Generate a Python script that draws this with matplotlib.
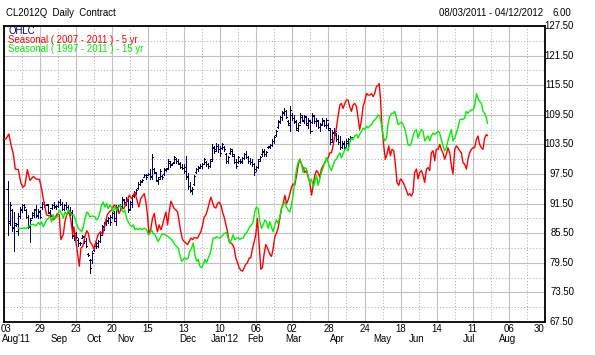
import matplotlib
matplotlib.use('Agg')
import matplotlib.pyplot as plt
import matplotlib.transforms as mtransforms

# ---------------- data ----------------
tick_days = [0, 18, 36, 54, 72, 90, 108, 126, 144, 162, 180, 198, 216, 234, 252, 270]
tick_labels = ['03', '29', '23', '20', '15', '13', '10', '06', '02', '28', '24', '18', '14', '11', '06', '30']
month_names = ["Aug'11", 'Sep', 'Oct', 'Nov', 'Dec', "Jan'12", 'Feb', 'Mar', 'Apr', 'May', 'Jun', 'Jul', 'Aug']
month_pos = [-0.8, 27.5, 45.1, 61.0, 91.9, 110.4, 125.8, 144.7, 166.7, 189.0, 205.8, 232.0, 251.4]
y_ticks = [127.5, 121.5, 115.5, 109.5, 103.5, 97.5, 91.5, 85.5, 79.5, 73.5, 67.5]

ohlc_day = list(range(2, 174))
ohlc_high = [96.0, 91.8, 90.5, 89.8, 87.5, 89.5, 90.8, 91.5,
             91.5, 90.5, 89.2, 88.5, 89.8, 90.5, 91.2, 90.5, 90.2, 91.8,
             91.8, 91.5, 91.5, 90.2, 91.5, 91.8, 91.3, 92.0, 92.5, 91.8,
             91.5, 91.8, 91.2, 90.8, 90.2, 86.2, 85.8, 84.5, 83.8, 85.2,
             85.0, 84.5, 81.5, 80.2, 81.8, 83.2, 83.8, 84.2, 85.5, 87.2,
             87.8, 88.5, 88.8, 89.2, 89.8, 90.0, 91.2, 91.2, 91.5, 92.8,
             92.5, 92.8, 92.5, 92.0, 93.2, 94.0, 94.5, 95.8, 96.2, 96.5,
             97.5, 97.6, 97.8, 98.5, 101.5, 98.8, 98.0, 96.8, 98.5, 97.2,
             98.8, 98.8, 100.5, 100.2, 99.8, 101.2, 100.8, 100.5, 100.0, 99.5,
             99.5, 101.2, 97.8, 95.8, 94.8, 97.2, 98.8, 99.2, 99.5, 99.8,
             100.8, 100.2, 99.8, 100.5, 103.5, 103.2, 103.8, 103.5, 103.2, 103.8,
             103.2, 101.8, 101.2, 102.8, 102.5, 101.5, 100.5, 101.2, 100.5, 101.0,
             101.8, 102.2, 101.2, 100.8, 100.5, 99.8, 99.2, 100.5, 101.2, 102.5,
             102.5, 102.2, 103.2, 103.5, 104.5, 105.2, 106.5, 108.5, 109.2, 110.2,
             110.8, 110.5, 108.5, 111.2, 109.8, 109.5, 108.5, 107.8, 109.8, 109.2,
             109.5, 109.2, 108.8, 108.5, 109.8, 109.5, 108.8, 108.5, 107.8, 108.8,
             108.5, 108.8, 107.8, 106.8, 106.5, 106.8, 105.8, 105.5, 105.2, 104.2,
             104.2, 104.5, 104.8, 105.2]
ohlc_low = [85.2, 87.2, 86.0, 81.8, 87.0, 85.2, 88.6, 89.8,
            90.5, 88.5, 86.5, 83.8, 88.5, 88.8, 88.8, 88.6, 88.5, 90.5,
            90.8, 91.2, 89.5, 88.5, 90.5, 90.6, 90.5, 90.8, 91.2, 90.2,
            90.2, 90.5, 89.8, 89.2, 84.5, 84.2, 84.5, 83.0, 83.2, 84.5,
            83.5, 82.8, 80.8, 77.5, 79.5, 81.8, 82.5, 82.8, 83.8, 85.2,
            86.2, 87.2, 87.5, 87.2, 88.5, 88.0, 87.2, 90.0, 90.2, 90.8,
            91.5, 91.2, 89.8, 90.2, 90.8, 92.8, 93.5, 94.5, 95.2, 95.8,
            96.8, 96.5, 97.2, 96.5, 96.5, 97.8, 96.0, 95.5, 96.5, 96.5,
            97.2, 98.2, 98.5, 99.0, 99.3, 99.8, 99.8, 99.5, 98.8, 98.5,
            97.8, 96.5, 94.5, 93.8, 93.5, 95.2, 97.8, 98.2, 98.8, 98.8,
            99.5, 99.2, 98.8, 99.0, 100.2, 101.8, 102.2, 102.0, 101.2, 102.5,
            102.2, 99.8, 99.8, 101.5, 101.2, 99.8, 98.8, 99.8, 99.8, 99.8,
            100.5, 100.8, 99.8, 99.5, 99.2, 97.2, 98.2, 98.8, 100.2, 101.2,
            101.2, 101.2, 102.8, 102.8, 103.2, 103.8, 105.2, 106.8, 107.8, 108.5,
            109.5, 108.8, 107.5, 106.2, 108.5, 107.8, 106.5, 106.2, 107.8, 108.2,
            107.8, 107.5, 106.8, 105.8, 107.8, 107.8, 107.2, 106.8, 106.2, 107.5,
            107.2, 106.8, 106.5, 103.5, 104.2, 105.5, 104.2, 103.5, 102.5, 102.8,
            102.5, 102.8, 103.2, 104.2]
ohlc_open = [94.5, 88.0, 90.2, 86.8, 87.2, 86.0, 89.0, 90.2,
             91.2, 90.2, 88.8, 86.8, 88.6, 89.2, 90.5, 89.0, 89.8, 90.8,
             91.5, 91.3, 91.2, 89.5, 90.6, 91.2, 90.8, 91.0, 91.8, 91.5,
             90.5, 91.2, 90.8, 90.2, 89.8, 85.2, 85.5, 84.2, 83.5, 84.6,
             84.8, 84.0, 81.2, 80.0, 80.0, 82.0, 83.0, 83.0, 84.0, 85.5,
             86.8, 87.5, 88.0, 88.5, 88.8, 89.5, 88.0, 90.6, 91.0, 91.0,
             92.2, 91.8, 92.0, 90.5, 91.5, 93.0, 93.8, 94.6, 95.5, 96.0,
             96.9, 97.2, 97.3, 97.5, 97.0, 98.5, 97.8, 96.0, 96.8, 97.0,
             97.5, 98.4, 98.8, 99.8, 99.4, 100.0, 100.5, 100.2, 99.6, 99.0,
             98.8, 99.0, 96.8, 95.0, 94.0, 95.5, 98.0, 98.5, 99.0, 99.2,
             99.6, 100.0, 99.5, 99.2, 100.5, 102.8, 102.5, 103.2, 102.5, 102.8,
             103.0, 101.5, 100.2, 101.8, 102.2, 101.2, 100.0, 100.0, 100.2, 100.2,
             100.8, 101.5, 101.0, 100.2, 100.0, 99.5, 98.5, 99.0, 100.5, 101.5,
             102.0, 101.5, 102.9, 103.0, 103.4, 104.2, 105.4, 107.0, 108.0, 109.0,
             110.0, 110.2, 108.2, 107.5, 109.5, 108.8, 108.0, 106.5, 108.0, 109.0,
             108.2, 109.0, 107.5, 108.2, 108.0, 109.2, 108.2, 108.2, 107.0, 107.6,
             108.2, 107.5, 107.5, 106.5, 104.5, 105.8, 105.5, 104.5, 104.0, 103.0,
             103.5, 103.0, 103.8, 104.5]
ohlc_close = [87.5, 91.2, 86.5, 87.5, 87.3, 89.0, 90.5, 91.2,
              90.8, 88.8, 87.0, 88.2, 89.5, 90.2, 89.2, 90.0, 88.8, 91.5,
              91.2, 91.4, 89.8, 89.0, 91.2, 91.0, 91.0, 91.8, 91.5, 90.5,
              91.2, 90.8, 90.0, 89.5, 85.0, 85.5, 84.8, 83.5, 83.6, 85.0,
              84.0, 83.0, 81.0, 78.5, 81.5, 83.0, 83.5, 84.0, 85.2, 87.0,
              87.5, 88.2, 88.5, 87.8, 89.5, 88.5, 90.8, 91.0, 90.5, 92.5,
              91.8, 92.2, 90.2, 91.8, 93.0, 93.8, 94.2, 95.5, 95.8, 96.3,
              97.2, 96.8, 97.6, 96.8, 101.0, 98.0, 96.2, 96.5, 98.2, 96.8,
              98.5, 98.6, 100.2, 99.5, 99.7, 101.0, 100.2, 99.8, 99.0, 98.8,
              98.2, 97.0, 95.0, 94.2, 94.5, 97.0, 98.5, 98.8, 99.2, 99.5,
              100.5, 99.5, 99.2, 100.2, 103.0, 102.2, 103.2, 102.5, 101.8, 103.5,
              102.5, 100.2, 101.0, 102.5, 101.5, 100.0, 99.2, 101.0, 100.0, 100.8,
              101.5, 101.0, 100.2, 100.0, 99.5, 98.0, 99.0, 100.2, 101.0, 102.2,
              101.5, 102.0, 103.1, 103.3, 104.2, 105.0, 106.2, 108.2, 109.0, 109.8,
              110.2, 109.0, 107.8, 110.5, 108.8, 108.2, 106.8, 107.5, 109.5, 108.5,
              109.2, 107.8, 108.5, 106.2, 109.5, 108.2, 108.5, 107.0, 107.5, 108.5,
              107.5, 108.5, 106.8, 104.0, 106.0, 106.2, 104.5, 104.0, 103.0, 103.8,
              103.0, 104.2, 104.5, 105.0]

red_days = [0.0, 1.2, 2.7, 3.7, 4.9, 5.9, 7.4, 8.6, 9.6, 10.7, 11.9, 13.2, 14.9, 16.2, 17.9,
            19.0, 19.8, 20.7, 21.5, 22.8, 24.0, 24.8, 25.7, 26.8, 27.8, 28.6, 29.8, 30.6, 31.5,
            32.6, 33.6, 34.5, 35.1, 36.1, 37.0, 37.8, 38.6, 39.5, 40.6, 41.5, 42.3, 43.1, 44.1,
            45.2, 46.1, 47.2, 48.4, 49.4, 50.6, 51.7, 52.7, 53.9, 55.2, 56.4, 57.5, 58.9, 60.0,
            61.4, 62.7, 63.9, 65.5, 67.5, 68.4, 70.2, 71.0, 71.8, 72.5, 73.5, 74.3, 75.2, 76.0,
            76.8, 77.6, 78.5, 79.3, 80.1, 81.0, 81.8, 82.6, 83.5, 84.3, 85.1, 86.0, 86.8, 87.6,
            88.4, 89.3, 90.1, 90.9, 91.8, 92.6, 93.4, 94.3, 95.1, 96.8, 97.6, 98.4, 99.3, 100.1,
            100.9, 101.7, 102.5, 103.4, 104.2, 105.0, 105.9, 106.7, 107.5, 108.4, 109.2, 110.0,
            110.9, 111.7, 112.5, 113.4, 114.2, 115.0, 115.8, 116.7, 117.5, 118.3, 119.2, 120.0,
            120.8, 121.6, 122.5, 123.3, 124.2, 125.0, 125.8, 126.6, 127.5, 128.3, 129.1, 129.9,
            130.8, 131.6, 132.8, 133.6, 134.4, 135.3, 136.1, 136.9, 137.8, 138.6, 139.4, 140.3,
            141.1, 141.9, 142.8, 143.6, 144.4, 145.2, 146.1, 146.9, 147.7, 148.6, 149.4, 150.2,
            151.1, 151.9, 152.7, 153.6, 154.4, 155.2, 156.1, 156.9, 157.7, 158.5, 159.4, 160.2,
            161.0, 161.9, 162.7, 163.5, 164.3, 165.2, 166.0, 166.8, 167.7, 168.5, 169.3, 170.2,
            171.0, 171.8, 172.6, 173.5, 174.3, 175.1, 176.0, 176.8, 177.6, 178.5, 179.3, 180.1,
            181.0, 181.8, 182.6, 183.5, 184.3, 185.1, 185.9, 186.8, 187.3, 187.9, 188.7, 189.6,
            190.4, 191.2, 192.1, 192.9, 193.7, 194.6, 195.4, 196.2, 197.1, 197.9, 198.7, 199.6,
            200.9, 201.7, 202.5, 203.4, 204.2, 205.0, 205.9, 206.7, 207.5, 208.4, 209.2, 210.0,
            210.9, 211.7, 212.5, 213.3, 214.2, 215.0, 215.8, 216.7, 217.5, 218.3, 219.1, 220.0,
            220.8, 221.6, 222.5, 223.3, 224.1, 225.0, 225.8, 226.6, 227.5, 228.3, 229.1, 229.9,
            230.8, 231.6, 232.4, 233.3, 234.1, 234.9, 235.8, 236.6, 237.4, 238.3, 239.1, 239.9,
            240.8, 241.3]
red_vals = [104.5, 104.6, 105.6, 103.5, 101.5, 98.5, 98.4, 95.8, 94.8, 95.2, 98.4, 96.2, 97.0, 96.5, 96.4,
            94.5, 92.5, 90.8, 89.2, 89.0, 89.2, 88.2, 88.5, 89.5, 89.2, 84.2, 85.2, 87.8, 89.2,
            89.8, 88.2, 85.2, 86.8, 83.8, 81.2, 78.8, 82.5, 82.8, 84.8, 86.0, 85.5, 83.8, 83.2,
            82.2, 83.8, 85.2, 85.8, 85.2, 87.2, 89.2, 89.8, 90.2, 91.2, 90.8, 89.5, 90.5, 90.5,
            91.8, 93.2, 92.5, 93.8, 90.8, 92.5, 93.5, 91.8, 89.2, 85.2, 86.5, 88.5, 89.5, 87.2,
            85.8, 87.2, 86.2, 87.2, 88.5, 89.8, 87.2, 89.8, 92.0, 91.2, 90.5, 90.2, 89.8, 87.8,
            85.8, 84.2, 83.8, 83.5, 83.2, 83.8, 84.5, 84.2, 84.6, 84.5, 85.2, 85.8, 87.2, 88.8,
            89.2, 90.2, 91.5, 92.8, 91.8, 90.8, 90.6, 91.5, 91.8, 91.2, 89.8, 88.8,
            87.2, 85.8, 83.8, 83.5, 83.2, 82.5, 80.5, 79.5, 78.5, 78.0, 77.8, 78.5,
            79.2, 79.5, 80.5, 80.5, 82.5, 83.8, 85.2, 88.5, 83.2, 78.2, 78.5, 81.2,
            83.2, 82.5, 81.2, 80.8, 82.2, 84.8, 85.5, 86.5, 88.5, 90.5, 91.5, 93.2,
            91.5, 92.2, 93.5, 94.8, 95.5, 95.2, 97.2, 99.2, 100.5, 99.5, 98.8, 97.8,
            98.2, 96.8, 95.8, 93.2, 95.2, 97.2, 98.2, 97.8, 96.8, 98.5, 99.2, 99.8,
            100.5, 100.8, 101.8, 101.8, 103.2, 105.2, 106.8, 109.2, 111.5, 111.8, 110.8, 111.8,
            112.5, 112.5, 111.2, 110.2, 111.5, 111.8, 111.2, 108.8, 106.5, 108.5, 111.2, 112.2,
            113.8, 113.5, 113.5, 113.8, 113.2, 113.8, 115.2, 115.5, 115.8, 113.2, 107.2, 103.2,
            100.5, 101.5, 103.2, 101.2, 102.5, 102.2, 99.5, 95.8, 95.2, 96.5, 96.2, 95.5,
            94.2, 93.2, 93.5, 93.0, 93.8, 97.8, 98.5, 96.5, 97.8, 98.2, 97.2, 95.8,
            98.5, 98.8, 98.2, 101.8, 102.2, 100.2, 102.5, 102.5, 103.5, 102.5, 101.8, 100.5,
            101.5, 102.8, 101.8, 99.2, 97.5, 102.5, 103.2, 102.8, 102.2, 101.8, 99.8, 99.5,
            98.5, 100.5, 101.8, 102.5, 102.8, 102.8, 104.5, 105.2, 103.5, 102.8, 102.5, 104.8,
            105.5, 105.3]

green_days = [7.4, 9.1, 10.2, 11.2, 12.4, 13.5, 14.9, 16.2, 17.4, 18.2, 19.0, 19.8, 20.7, 21.5,
              22.3, 23.2, 24.0, 24.8, 25.7, 26.8, 27.8, 29.0, 29.8, 30.6, 31.5, 32.3, 33.1, 34.0,
              35.1, 36.1, 37.3, 38.1, 39.0, 39.8, 40.6, 41.5, 42.3, 43.1, 44.4, 45.6, 46.4, 47.2,
              48.1, 48.9, 49.7, 50.6, 51.4, 52.2, 53.1, 53.9, 54.7, 55.6, 56.4, 57.2, 58.1, 58.9,
              59.7, 60.5, 61.4, 62.2, 63.0, 63.9, 64.7, 65.5, 66.4, 67.2, 68.0, 68.9, 69.7, 70.5,
              71.3, 72.2, 73.0, 73.8, 74.6, 75.5, 76.3, 77.1, 78.0, 78.8, 79.6, 80.5, 81.3, 82.1,
              83.0, 83.8, 84.6, 85.4, 86.3, 87.1, 87.9, 88.8, 89.6, 90.4, 91.3, 92.1, 92.9, 93.8,
              94.6, 95.4, 96.3, 97.1, 97.9, 98.8, 99.6, 100.4, 101.2, 102.1, 102.9, 103.7, 104.5,
              105.4, 106.2, 107.0, 107.9, 108.7, 109.5, 110.4, 111.2, 112.0, 112.8, 113.7, 114.5,
              115.3, 116.2, 117.0, 117.8, 118.7, 119.5, 120.3, 121.2, 122.0, 122.8, 123.7, 124.5,
              125.3, 126.1, 127.0, 127.8, 128.6, 129.5, 130.3, 131.1, 132.0, 132.8, 133.6, 134.4,
              135.3, 136.1, 136.9, 137.8, 138.6, 139.4, 140.3, 141.1, 141.9, 142.8, 143.6, 144.4,
              145.2, 146.1, 146.9, 147.7, 148.6, 149.4, 150.2, 151.1, 151.9, 152.7, 153.6, 154.4,
              155.2, 156.1, 156.9, 157.7, 158.5, 159.4, 160.2, 161.0, 161.9, 162.7, 163.5, 164.3,
              165.2, 166.0, 166.8, 167.7, 168.5, 169.3, 170.2, 171.0, 171.8, 172.6, 173.5, 174.3,
              175.1, 176.0, 176.8, 177.6, 178.5, 179.3, 180.1, 181.0, 181.8, 182.6, 183.5, 184.3,
              185.1, 185.9, 186.8, 187.6, 188.5, 189.3, 190.1, 191.0, 191.8, 192.6, 193.5, 194.3,
              195.1, 196.0, 196.8, 197.6, 198.5, 199.3, 200.0, 200.9, 201.7, 202.5, 203.4, 204.2,
              205.0, 205.9, 206.7, 207.5, 208.4, 209.2, 210.0, 210.9, 211.7, 212.5, 213.3, 214.2,
              215.0, 215.8, 216.7, 217.5, 218.3, 219.1, 220.0, 220.8, 221.6, 222.5, 223.3, 224.1,
              225.0, 225.8, 226.6, 227.5, 228.3, 229.1, 229.9, 230.8, 231.6, 232.4, 233.3, 234.1,
              234.9, 235.8, 236.6, 237.4, 238.3, 239.1, 239.9, 240.8, 241.3]
green_vals = [86.5, 86.4, 86.6, 86.4, 86.8, 87.2, 87.3, 87.0, 87.7, 87.2, 87.8, 86.8, 87.5, 88.2,
              88.5, 88.8, 87.8, 89.2, 88.5, 88.8, 90.2, 89.5, 88.5, 89.8, 89.2, 90.2, 89.8, 89.2,
              89.2, 87.8, 86.5, 86.2, 85.8, 86.8, 88.5, 89.8, 89.5, 88.8, 89.0, 88.8, 88.2, 88.5,
              89.8, 91.2, 91.8, 90.8, 91.5, 90.5, 91.2, 90.8, 89.8, 90.8, 90.2, 90.5, 91.2, 90.2,
              89.8, 90.2, 88.5, 87.8, 87.2, 86.8, 87.2, 86.2, 86.5, 86.2, 86.5, 86.2, 86.4, 86.5,
              86.2, 85.2, 85.5, 86.2, 85.5, 85.2, 84.5, 83.8, 84.5, 85.2, 85.3, 85.2, 85.0, 84.8,
              84.5, 84.2, 83.8, 83.2, 82.8, 82.5, 81.2, 79.8, 80.2, 80.5, 80.2, 80.5, 81.8, 82.5,
              83.5, 81.2, 79.8, 80.2, 78.8, 78.5, 79.2, 80.2, 79.5, 80.5, 81.2, 82.5, 84.5,
              84.5, 84.8, 84.6, 84.5, 84.8, 85.2, 85.5, 85.7, 84.5, 83.5, 84.2, 85.2,
              84.2, 84.5, 84.6, 84.2, 84.5, 84.5, 85.2, 85.5, 86.2, 86.8, 87.2, 87.8,
              89.8, 90.8, 90.5, 87.8, 86.5, 87.2, 88.2, 87.8, 86.5, 87.8, 86.8, 85.8,
              87.2, 88.2, 87.5, 88.8, 90.5, 91.2, 91.8, 90.8, 90.2, 89.8, 91.2, 93.2,
              95.8, 98.5, 99.8, 100.5, 99.5, 97.8, 98.8, 98.5, 97.2, 95.8, 96.5, 94.8,
              95.8, 97.2, 95.2, 96.5, 97.8, 98.8, 99.8, 100.8, 99.8, 98.8, 98.2, 99.2,
              100.2, 100.5, 101.2, 101.8, 100.8, 101.5, 102.5, 102.8, 102.2, 103.8, 104.8, 104.5,
              105.2, 105.5, 104.8, 105.5, 106.2, 106.8, 106.5, 107.2, 106.8, 107.2, 107.5, 108.2,
              108.5, 108.8, 109.5, 109.2, 107.5, 105.2, 104.2, 104.8, 107.8, 109.2, 109.8, 109.8,
              110.2, 108.8, 107.5, 107.8, 108.0, 107.5, 106.8, 105.2, 103.5, 103.2, 103.8, 105.2,
              106.2, 106.5, 104.8, 105.8, 106.5, 106.2, 104.2, 104.8, 105.2, 104.2, 105.2, 105.8,
              105.5, 105.8, 106.2, 105.8, 104.5, 103.2, 102.2, 102.8, 104.2, 105.5, 106.5, 104.2,
              104.8, 105.8, 106.8, 108.5, 108.6, 108.6, 108.8, 110.2, 109.8, 110.2, 110.5, 110.5,
              111.2, 113.8, 112.8, 112.2, 111.8, 110.2, 109.8, 108.8, 107.8]

# ---------------- figure ----------------
W, H = 595, 355
plt.rcParams['font.family'] = ['Liberation Sans', 'DejaVu Sans']
FS = 6.9
NAVY = '#000066'
RED = '#ff0000'
GREEN = '#00f000'

fig = plt.figure(figsize=(W / 100, H / 100), dpi=100)
fig.patch.set_facecolor('white')
ax = fig.add_axes([3.5 / W, 33 / H, 541.5 / W, 296 / H])
ax.set_xlim(0, 270)
ax.set_ylim(67.5, 127.5)

# grid
ax.set_xticks(tick_days)
ax.set_xticks([d + 9 for d in tick_days[:-1]], minor=True)
ax.set_yticks(y_ticks)
ax.set_yticks([v + 3 for v in y_ticks[1:]], minor=True)
ax.grid(which='major', color='#c0c0c0', lw=0.8, ls='-')
ax.grid(which='minor', color='#a8a8a8', lw=0.7, ls=(0, (1, 2.2)))
ax.set_axisbelow(True)
ax.tick_params(which='both', length=0, labelbottom=False, labelleft=False)
for s in ax.spines.values():
    s.set_linewidth(1.3)
    s.set_color('black')

# OHLC bars
ax.vlines(ohlc_day, ohlc_low, ohlc_high, color=NAVY, lw=0.6, zorder=3, antialiased=False)
ax.hlines(ohlc_open, [d - 0.6 for d in ohlc_day], ohlc_day, color=NAVY, lw=0.6, zorder=3,
          antialiased=False)
ax.hlines(ohlc_close, ohlc_day, [d + 0.6 for d in ohlc_day], color=NAVY, lw=0.6, zorder=3,
          antialiased=False)

# seasonal lines
ax.plot(red_days, red_vals, color=RED, lw=1.0, zorder=4)
ax.plot(green_days, green_vals, color=GREEN, lw=1.0, zorder=5)

# x labels
tr_x = mtransforms.blended_transform_factory(ax.transData, fig.transFigure)
for i, (d, lab) in enumerate(zip(tick_days, tick_labels)):
    xpos = d
    if i == 0:
        xpos = d + 1.2
    elif i == len(tick_days) - 1:
        xpos = d - 2.8
    ax.text(xpos, 1 - 329.5 / H, lab, transform=tr_x, ha='center', va='center',
            fontsize=FS, color='black', clip_on=False)
for j, (p, m) in enumerate(zip(month_pos, month_names)):
    ax.text(p, 1 - 339.5 / H, m, transform=tr_x, ha='left' if j == 0 else 'center',
            va='center', fontsize=FS, color='black', clip_on=False)

# y labels (right side)
tr_y = mtransforms.blended_transform_factory(fig.transFigure, ax.transData)
for v in y_ticks:
    ax.text(574 / W, v, f'{v:.2f}', transform=tr_y, ha='right', va='center',
            fontsize=FS, color='black', clip_on=False)

# header
fig.text(6 / W, 1 - 13.5 / H, 'CL2012Q  Daily  Contract', ha='left', va='center',
         fontsize=FS, color='black')
fig.text(543 / W, 1 - 13.5 / H, '08/03/2011 - 04/12/2012', ha='right', va='center',
         fontsize=FS, color='black')
fig.text(571 / W, 1 - 13.5 / H, '6.00', ha='right', va='center', fontsize=FS, color='black')

# legend text
fig.text(8.3 / W, 1 - 30.5 / H, 'OHLC', ha='left', va='center', fontsize=FS, color='#000080')
fig.text(8.3 / W, 1 - 40 / H, 'Seasonal ( 2007 - 2011 ) - 5 yr', ha='left', va='center',
         fontsize=FS, color=RED)
fig.text(8.3 / W, 1 - 49.5 / H, 'Seasonal ( 1997 - 2011 ) - 15 yr', ha='left', va='center',
         fontsize=FS, color=GREEN)

fig.savefig('out.png', dpi=100)
